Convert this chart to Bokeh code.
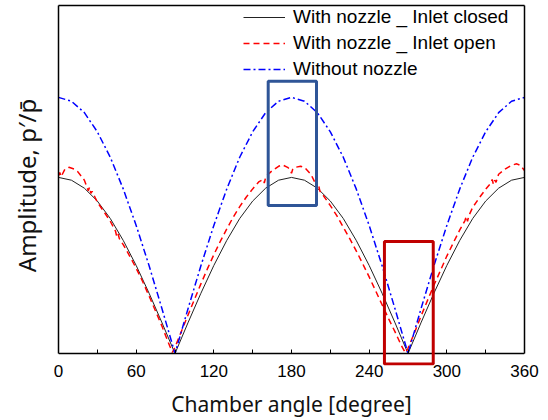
from bokeh.plotting import figure
from bokeh.models import (Legend, LegendItem, BoxAnnotation, FixedTicker, Range1d,
                          LinearAxis)
from bokeh.embed import file_html
from bokeh.resources import INLINE

# ---- data ----
ang10 = [0, 10, 20, 30, 40, 50, 60, 70, 80, 90, 100, 110, 120, 130, 140, 150, 160, 170, 180,
         190, 200, 210, 220, 230, 240, 250, 260, 270, 280, 290, 300, 310, 320, 330, 340, 350, 360]
closed = [0.506, 0.498, 0.475, 0.438, 0.388, 0.325, 0.253, 0.173, 0.088, 0.000,
          0.088, 0.173, 0.253, 0.325, 0.388, 0.438, 0.475, 0.498, 0.506,
          0.498, 0.475, 0.438, 0.388, 0.325, 0.253, 0.173, 0.088, 0.000,
          0.088, 0.173, 0.253, 0.325, 0.388, 0.438, 0.475, 0.498, 0.506]
no_nozzle = [0.736, 0.725, 0.692, 0.637, 0.564, 0.473, 0.368, 0.252, 0.128, 0.000,
             0.128, 0.252, 0.368, 0.473, 0.564, 0.637, 0.692, 0.725, 0.736,
             0.725, 0.692, 0.637, 0.564, 0.473, 0.368, 0.252, 0.128, 0.000,
             0.128, 0.252, 0.368, 0.473, 0.564, 0.637, 0.692, 0.725, 0.736]

ang_open = [0, 1, 2, 5, 8, 12, 15, 20, 23, 24, 25, 26, 30, 35, 40, 44, 45, 46, 47, 50, 55, 60,
            65, 70, 75, 80, 85, 88, 90, 95, 100, 105, 110, 115, 120, 125, 130, 135, 140, 145,
            150, 155, 158, 159, 160, 161, 165, 170, 173, 177, 179, 180, 181, 183, 187, 190,
            195, 199, 200, 201, 202, 205, 210, 215, 220, 225, 230, 235, 240, 245, 250, 255,
            260, 265, 268, 270, 275, 280, 285, 290, 295, 300, 305, 310, 314, 315, 316, 317,
            320, 325, 330, 334, 335, 336, 337, 338, 340, 345, 350, 354, 357, 360]
inlet_open = [0.511, 0.520, 0.508, 0.530, 0.535, 0.530, 0.522, 0.498, 0.468, 0.478, 0.460,
              0.466, 0.435, 0.408, 0.380, 0.352, 0.336, 0.344, 0.330, 0.313, 0.280, 0.245,
              0.207, 0.165, 0.122, 0.078, 0.030, 0.003, 0.018, 0.064, 0.110, 0.155, 0.200,
              0.243, 0.284, 0.322, 0.358, 0.392, 0.422, 0.449, 0.473, 0.494, 0.500, 0.490,
              0.506, 0.512, 0.525, 0.538, 0.542, 0.535, 0.528, 0.518, 0.530, 0.535, 0.538,
              0.535, 0.515, 0.485, 0.470, 0.482, 0.466, 0.452, 0.425, 0.396, 0.363, 0.330,
              0.295, 0.258, 0.220, 0.180, 0.140, 0.100, 0.062, 0.022, 0.002, 0.015, 0.060,
              0.107, 0.152, 0.196, 0.238, 0.280, 0.318, 0.355, 0.382, 0.394, 0.380, 0.396,
              0.420, 0.447, 0.472, 0.490, 0.500, 0.486, 0.498, 0.492, 0.515, 0.530, 0.541,
              0.545, 0.540, 0.526]

x_ticks = [0, 60, 120, 180, 240, 300, 360]
x_minor = [30, 90, 150, 210, 270, 330]
legend_labels = ["With nozzle _ Inlet closed", "With nozzle _ Inlet open", "Without nozzle"]
x_title = "Chamber angle [degree]"
y_title = "Amplitude, p\u2032/p\u0304"

p = figure(width=548, height=420, output_backend="svg", toolbar_location=None,
           x_range=Range1d(0, 360), y_range=Range1d(-0.0345, 1.0),
           x_axis_location=None, y_axis_location=None,
           min_border_left=58, min_border_right=24, min_border_top=5, min_border_bottom=55)
p.grid.visible = False
p.outline_line_color = None

r1 = p.line(ang10, closed, line_color="#222222", line_width=1)
r2 = p.line(ang_open, inlet_open, line_color="#FF0000", line_width=1.5, line_dash="6 4")
r3 = p.line(ang10, no_nozzle, line_color="#0000FF", line_width=1.5, line_dash="7 3 2 3")

p.add_layout(BoxAnnotation(left=162, right=199.3, bottom=0.425, top=0.782,
                           fill_alpha=0, line_alpha=1, line_color="#2F5597", line_width=3))
p.add_layout(BoxAnnotation(left=251.8, right=289.5, bottom=-0.030, top=0.322,
                           fill_alpha=0, line_alpha=1, line_color="#C00000", line_width=3))

# bottom: label axis in the panel (no line, no ticks)
xl = LinearAxis(ticker=FixedTicker(ticks=x_ticks))
xl.axis_line_color = None
xl.major_tick_line_color = None
xl.minor_tick_line_color = None
xl.major_label_text_font = "Liberation Sans"
xl.major_label_text_font_size = "17px"
xl.major_label_text_color = "black"
xl.major_label_standoff = -7
xl.axis_label = x_title
xl.axis_label_text_font = "Noto Sans"
xl.axis_label_text_font_size = "21px"
xl.axis_label_text_font_style = "normal"
xl.axis_label_text_color = "#111111"
xl.axis_label_standoff = 10
p.add_layout(xl, "below")

# bottom: axis line + inward ticks at amplitude 0
xa = LinearAxis(fixed_location=0)
xa.ticker = FixedTicker(ticks=x_ticks, minor_ticks=x_minor)
xa.major_tick_in = 4
xa.major_tick_out = 0
xa.minor_tick_in = 4
xa.minor_tick_out = 0
xa.axis_line_width = 1.5
xa.major_label_text_font_size = "0px"
xa.major_label_text_alpha = 0
xa.major_label_standoff = 0
p.add_layout(xa, "below")

def frame_axis(side, bounds=None, label=None, line=True):
    ax = LinearAxis(ticker=FixedTicker(ticks=[]), major_tick_in=0, major_tick_out=0,
                    minor_tick_in=0, minor_tick_out=0, axis_line_width=1.5,
                    major_label_text_font_size="0px", major_label_standoff=0)
    if bounds is not None:
        ax.bounds = bounds
    if not line:
        ax.axis_line_color = None
    if label:
        ax.axis_label = label
        ax.axis_label_text_font = "Noto Sans"
        ax.axis_label_text_font_size = "24px"
        ax.axis_label_text_font_style = "normal"
        ax.axis_label_text_color = "#111111"
        ax.axis_label_standoff = 16
    p.add_layout(ax, side)

frame_axis("left", bounds=(0, 1.0))
frame_axis("left", bounds=(0.06, 1.0), label=y_title, line=False)
frame_axis("right", bounds=(0, 1.0))
frame_axis("above")

legend = Legend(items=[LegendItem(label=legend_labels[0], renderers=[r1]),
                       LegendItem(label=legend_labels[1], renderers=[r2]),
                       LegendItem(label=legend_labels[2], renderers=[r3])],
                location=(184, 284), border_line_alpha=0, background_fill_alpha=0,
                label_text_font="Liberation Sans", label_text_font_size="19px",
                label_text_color="black",
                glyph_width=42, label_standoff=8, spacing=4, padding=1, margin=0,
                label_height=22, glyph_height=22)
p.add_layout(legend)

open("out.html", "w").write(file_html(p, INLINE))
